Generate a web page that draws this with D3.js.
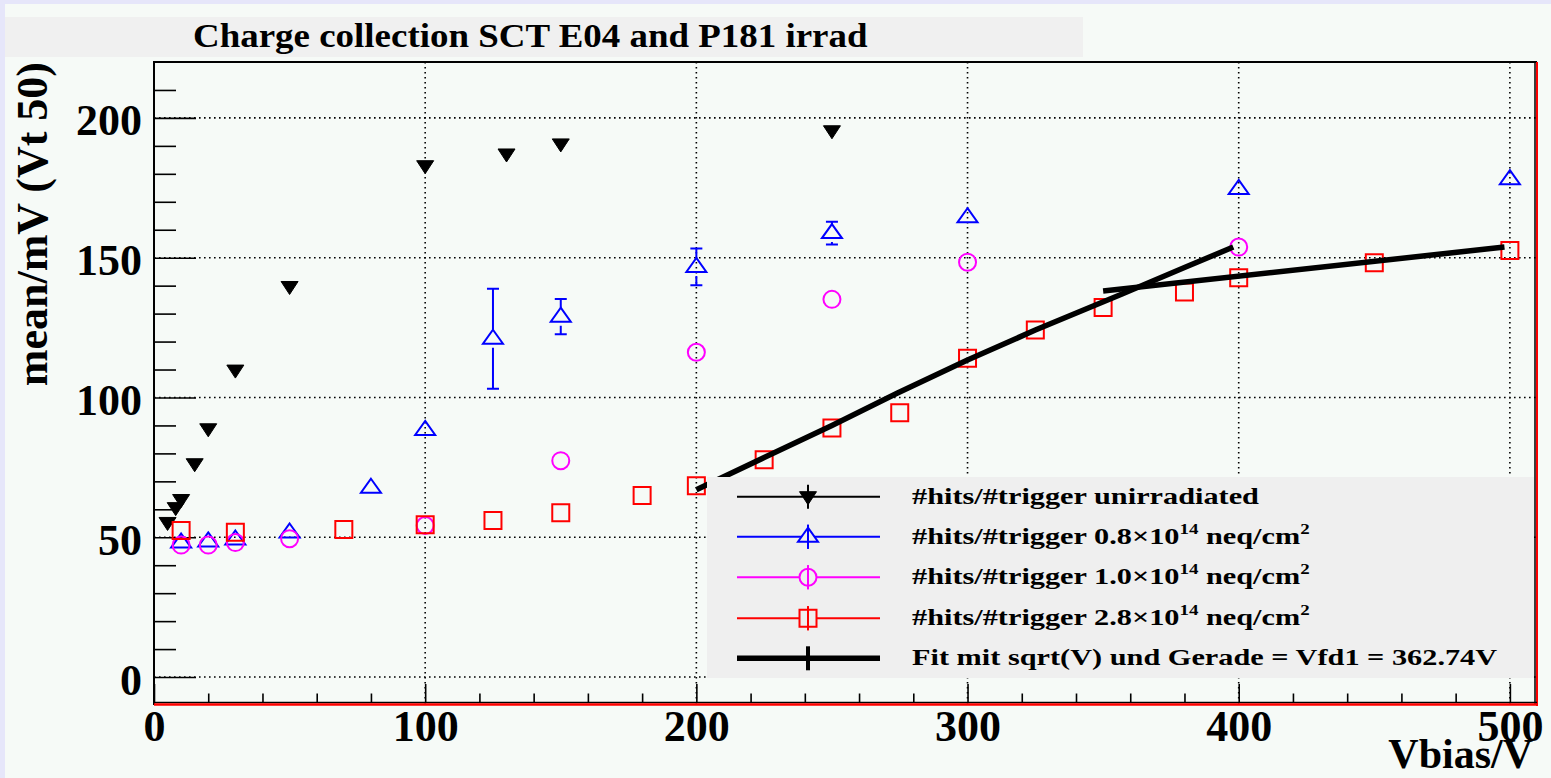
<!DOCTYPE html>
<html>
<head>
<meta charset="utf-8">
<script src="https://cdn.jsdelivr.net/npm/d3@7"></script>
<style>
  html, body { margin: 0; padding: 0; background: #e6e6fa; }
  svg { display: block; }
  text { font-family: "Liberation Serif", "Times New Roman", serif; font-weight: bold; fill: #000; }
</style>
</head>
<body>
<svg id="chart" width="1551" height="778"></svg>
<script>
// ---------------- DATA ----------------
const chartTitle = "Charge collection SCT E04 and P181 irrad";
const xTitle = "Vbias/V";
const yTitle = "mean/mV (Vt 50)";
const xTicks = [0, 100, 200, 300, 400, 500];
const yTicks = [0, 50, 100, 150, 200];

// unirradiated (black filled down triangles)
const unirrV    = [5, 8, 10, 15, 20, 30, 50, 100, 130, 150, 250];
const unirrMean = [55.3, 60.6, 63.5, 76.3, 88.8, 109.8, 139.7, 182.9, 187.1, 190.7, 195.4];

// 0.8e14 neq/cm2 (blue open up triangles)
const irr08V    = [10, 20, 30, 50, 80, 100, 125, 150, 200, 250, 300, 400, 500];
const irr08Mean = [48.1, 48.5, 49.2, 51.7, 67.7, 88.4, 121.0, 128.9, 146.7, 158.8, 164.5, 174.6, 178.1];
const irr08Err  = [1.5, 1.5, 2, 1.5, 0.5, 0.5, 17.9, 6.3, 6.6, 4.1, 1, 1, 1];

// 1.0e14 neq/cm2 (magenta open circles)
const irr10V    = [10, 20, 30, 50, 100, 150, 200, 250, 300, 400];
const irr10Mean = [47.2, 47.2, 48.1, 49.5, 54.2, 77.4, 116.2, 135.1, 148.4, 153.8];
const irr10Err  = [1, 1, 1, 1, 1, 1, 1, 2, 1, 3.2];

// 2.8e14 neq/cm2 (red open squares)
const irr28V    = [10, 30, 70, 100, 125, 150, 180, 200, 225, 250, 275, 300, 325, 350, 380, 400, 450, 500];
const irr28Mean = [52.4, 51.8, 52.8, 54.5, 56.0, 58.8, 64.9, 68.4, 77.7, 89.1, 94.5, 114.0, 124.1, 132.2, 137.7, 142.8, 148.2, 152.6];

// fit curves
const fitSqrtV    = [200, 225, 250, 274, 300, 325, 357, 380, 398];
const fitSqrtMean = [67.0, 78.5, 90.0, 101.5, 113.4, 124.1, 137.0, 146.5, 153.8];
const fitLineV    = [350, 498];
const fitLineMean = [138.1, 153.8];

const legendLabels = [
  ["#hits/#trigger unirradiated"],
  ["#hits/#trigger 0.8\u00d710", "14", " neq/cm", "2"],
  ["#hits/#trigger 1.0\u00d710", "14", " neq/cm", "2"],
  ["#hits/#trigger 2.8\u00d710", "14", " neq/cm", "2"],
  ["Fit mit sqrt(V) und Gerade = Vfd1 = 362.74V"]
];

// ---------------- LAYOUT ----------------
const svg = d3.select("#chart");
const L = 154, R = 1537, T = 62, B = 705;
const x = d3.scaleLinear().domain([0, 510]).range([L, R]);
const y = d3.scaleLinear().domain([-10, 220]).range([B, T]);

// backgrounds
svg.append("rect").attr("x", 0).attr("y", 0).attr("width", 1551).attr("height", 778).attr("fill", "#e6e6fa");
svg.append("rect").attr("x", 5).attr("y", 4).attr("width", 1546).attr("height", 774).attr("fill", "#f6faf7");
svg.append("rect").attr("x", 5).attr("y", 17).attr("width", 1078).attr("height", 40).attr("fill", "#f0f0f0");

// title
const tt = svg.append("text").attr("font-size", 33).text(chartTitle);
{
  const w = tt.node().getComputedTextLength();
  tt.attr("transform", `translate(193,47) scale(${675 / w},1)`);
}

// grid
const grid = svg.append("g").attr("stroke", "#000").attr("stroke-width", 1.6).attr("stroke-dasharray", "1.6,3.4");
xTicks.filter(v => v > 0).forEach(v => {
  grid.append("line").attr("x1", x(v)).attr("x2", x(v)).attr("y1", T).attr("y2", B);
});
yTicks.forEach(v => {
  grid.append("line").attr("x1", L).attr("x2", R).attr("y1", y(v)).attr("y2", y(v));
});

// axes
const xMajor = svg.append("g").attr("transform", `translate(0,${B - 2})`)
  .call(d3.axisBottom(x).tickValues(xTicks).tickSizeInner(-19).tickSizeOuter(0).tickFormat(d3.format("d")));
const xMinor = svg.append("g").attr("transform", `translate(0,${B - 2})`)
  .call(d3.axisBottom(x).tickValues(d3.range(0, 511, 20).filter(v => v % 100 !== 0)).tickSizeInner(-9.5).tickSizeOuter(0).tickFormat(""));
[xMajor, xMinor].forEach(g => {
  g.select(".domain").remove();
  g.selectAll(".tick line").attr("stroke", "#000").attr("stroke-width", 1.6);
});
xMajor.selectAll(".tick text").attr("y", 38).attr("dy", 0).attr("font-size", 44)
  .attr("font-family", "Liberation Serif").attr("font-weight", "bold").attr("fill", "#000");

const yMajor = svg.append("g").attr("transform", `translate(${L},0)`)
  .call(d3.axisLeft(y).tickValues(yTicks).tickSizeInner(-42).tickSizeOuter(0).tickFormat(d3.format("d")));
const yMinor = svg.append("g").attr("transform", `translate(${L},0)`)
  .call(d3.axisLeft(y).tickValues(d3.range(-10, 221, 10).filter(v => v % 50 !== 0 && v > -10 && v < 220)).tickSizeInner(-22).tickSizeOuter(0).tickFormat(""));
[yMajor, yMinor].forEach(g => {
  g.select(".domain").remove();
  g.selectAll(".tick line").attr("stroke", "#000").attr("stroke-width", 1.6);
});
yMajor.selectAll(".tick text").attr("x", -12).attr("dy", 0).attr("y", 17).attr("font-size", 44)
  .attr("font-family", "Liberation Serif").attr("font-weight", "bold").attr("fill", "#000");

// frame
svg.append("line").attr("x1", L).attr("x2", L).attr("y1", T - 1).attr("y2", B).attr("stroke", "#000").attr("stroke-width", 2);
svg.append("line").attr("x1", L).attr("x2", R).attr("y1", T).attr("y2", T).attr("stroke", "#000").attr("stroke-width", 2);
svg.append("line").attr("x1", R - 2).attr("x2", R - 2).attr("y1", T).attr("y2", B).attr("stroke", "#000").attr("stroke-width", 1.5);
svg.append("line").attr("x1", R).attr("x2", R).attr("y1", T).attr("y2", B + 1).attr("stroke", "#ff0000").attr("stroke-width", 2);
svg.append("line").attr("x1", L).attr("x2", R).attr("y1", B - 2.5).attr("y2", B - 2.5).attr("stroke", "#000").attr("stroke-width", 1.5);
svg.append("line").attr("x1", L).attr("x2", R + 1).attr("y1", B - 0.5).attr("y2", B - 0.5).attr("stroke", "#ff0000").attr("stroke-width", 2.5);

// axis titles
svg.append("text").attr("font-size", 42).attr("text-anchor", "end")
  .attr("x", 1533).attr("y", 768).text(xTitle);
svg.append("text").attr("font-size", 44).attr("text-anchor", "end")
  .attr("transform", `translate(47,${T}) rotate(-90)`).text(yTitle);

// ---------------- MARKERS ----------------
const shapes = {
  down: "M-8.5,-5L8.5,-5L0,8Z",
  up: "M0,-9L10,5L-10,5Z",
  circle: d3.arc()({innerRadius: 0, outerRadius: 8.5, startAngle: 0, endAngle: 2 * Math.PI}),
  square: "M-8.5,-8.5H8.5V8.5H-8.5Z"
};

function drawSeries(vs, ms, errs, color, shape, filled) {
  const g = svg.append("g");
  const gap = 9, cap = 6;
  if (errs) {
    vs.forEach((v, i) => {
      const cx = x(v), cy = y(ms[i]);
      const ePx = y(ms[i] - errs[i]) - cy;
      if (ePx > gap) {
        g.append("path")
          .attr("d", `M${cx},${cy - gap}V${cy - ePx}M${cx - cap},${cy - ePx}H${cx + cap}` +
                     `M${cx},${cy + gap}V${cy + ePx}M${cx - cap},${cy + ePx}H${cx + cap}`)
          .attr("stroke", color).attr("stroke-width", 2).attr("fill", "none");
      }
    });
  }
  g.selectAll("path.m").data(vs).join("path").attr("class", "m")
    .attr("d", shapes[shape])
    .attr("transform", (v, i) => `translate(${x(v)},${y(ms[i])})`)
    .attr("fill", filled ? color : "none")
    .attr("stroke", color).attr("stroke-width", filled ? 1 : 2);
}

drawSeries(unirrV, unirrMean, null, "#000000", "down", true);
drawSeries(irr08V, irr08Mean, irr08Err, "#0000ff", "up", false);
drawSeries(irr10V, irr10Mean, irr10Err, "#ff00ff", "circle", false);
drawSeries(irr28V, irr28Mean, null, "#ff0000", "square", false);

// fits
const line = d3.line().x(d => x(d[0])).y(d => y(d[1]));
svg.append("path").attr("d", line(fitSqrtV.map((v, i) => [v, fitSqrtMean[i]])))
  .attr("fill", "none").attr("stroke", "#000").attr("stroke-width", 5.5).attr("stroke-linejoin", "round");
svg.append("path").attr("d", line(fitLineV.map((v, i) => [v, fitLineMean[i]])))
  .attr("fill", "none").attr("stroke", "#000").attr("stroke-width", 5.5);

// ---------------- LEGEND ----------------
const leg = svg.append("g");
leg.append("rect").attr("x", 707).attr("y", 477).attr("width", 827).attr("height", 201).attr("fill", "#efefef");
const rowY = [496.7, 536.7, 577.3, 618.3, 658.3];
const legStyles = [
  {color: "#000000", shape: "down", filled: true, lw: 2},
  {color: "#0000ff", shape: "up", filled: false, lw: 2},
  {color: "#ff00ff", shape: "circle", filled: false, lw: 2},
  {color: "#ff0000", shape: "square", filled: false, lw: 2},
  {color: "#000000", shape: null, filled: false, lw: 5.5}
];
let legScale = 1;
legendLabels.forEach((parts, i) => {
  const st = legStyles[i], cy = rowY[i];
  leg.append("line").attr("x1", 737).attr("x2", 880).attr("y1", cy).attr("y2", cy)
    .attr("stroke", st.color).attr("stroke-width", st.lw);
  leg.append("line").attr("x1", 808).attr("x2", 808).attr("y1", cy - 12).attr("y2", cy + 12)
    .attr("stroke", st.color).attr("stroke-width", i === 4 ? 4 : 2);
  if (st.shape) {
    leg.append("path").attr("d", shapes[st.shape]).attr("transform", `translate(808,${cy})`)
      .attr("fill", st.filled ? st.color : "#efefef").attr("stroke", st.color).attr("stroke-width", st.filled ? 1 : 2);
    if (!st.filled) {
      leg.append("line").attr("x1", 808).attr("x2", 808).attr("y1", cy - 12).attr("y2", cy + 12)
        .attr("stroke", st.color).attr("stroke-width", 2);
    }
  }
  const t = leg.append("text").attr("font-size", 24);
  t.append("tspan").text(parts[0]);
  if (parts.length > 1) {
    t.append("tspan").attr("font-size", 15).attr("dy", -10).text(parts[1]);
    t.append("tspan").attr("dy", 10).text(parts[2]);
    t.append("tspan").attr("font-size", 15).attr("dy", -10).text(parts[3]);
  }
  if (i === 0) legScale = 347 / t.node().getComputedTextLength();
  t.attr("transform", `translate(912,${cy + 7}) scale(${legScale},1)`);
});
</script>
</body>
</html>
